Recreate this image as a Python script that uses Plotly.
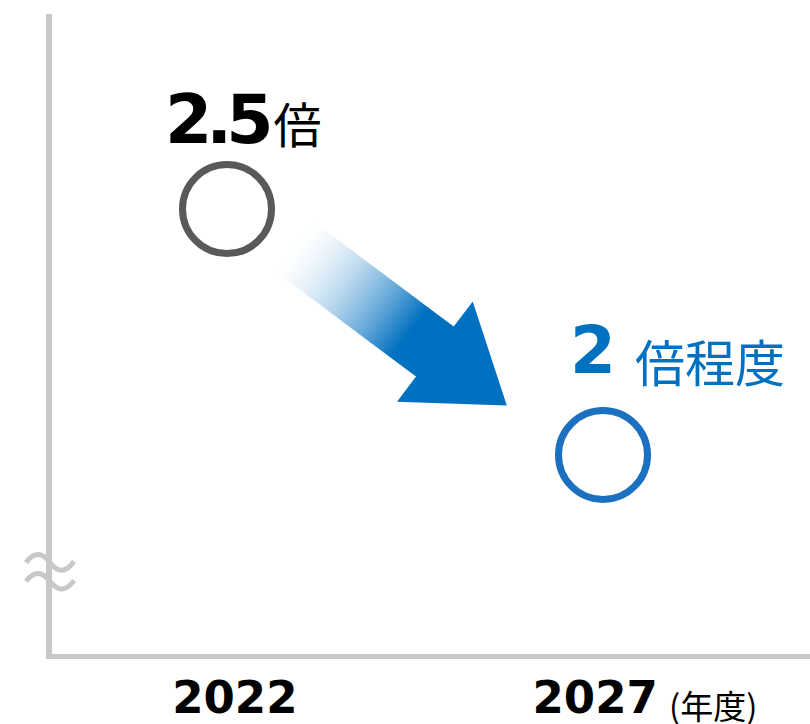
import plotly.graph_objects as go

# ---- data ----
years = ["2022", "2027"]
values = [2.5, 2.0]
value_labels = ["2.5", "2"]
unit_labels = ["倍", "倍程度"]
year_unit = "(年度)"
tick_text = ["\u00a02022", "2027\u00a0"]

# ---- styles ----
MARKER_COLORS = ["#595959", "#1b70c0"]
BLUE = "#0070c0"
AXIS_GRAY = "#c8c8c8"

W, H = 810, 724
L, R, T, B = 52, 0, 14, 67
PW = W - L - R
PH = H - T - B


def px(x):
    return (x - L) / PW


def py(y):
    return (H - B - y) / PH


fig = go.Figure()

fig.add_trace(go.Scatter(
    x=years, y=values, mode="markers",
    marker=dict(symbol="circle", size=89, color="white",
                line=dict(width=7, color=MARKER_COLORS)),
    hoverinfo="skip", showlegend=False, cliponaxis=False,
))

shapes = []

# ---- gradient arrow (decoration) ----
ox, oy = 291.0, 245.0
ux, uy = 0.7993, 0.6009
nx, ny = 0.6009, -0.7993
hw = 31.4
head_hw = 63.0
shaft_end = 180.0
tip_t = 270.0
grad_end = 148.0
gamma = 1.7


def pt(t, s):
    x = ox + t * ux + s * nx
    y = oy + t * uy + s * ny
    return px(x), py(y)


def path(points):
    return "M " + " L ".join(f"{x:.5f},{y:.5f}" for x, y in points) + " Z"


c0 = (255, 255, 255)
c1 = (0, 112, 192)
n_strips = 70
step = grad_end / n_strips
for i in range(n_strips):
    t0 = i * step
    t1 = t0 + step + 0.7
    f = ((i + 0.5) / n_strips) ** gamma
    col = tuple(round(c0[k] + (c1[k] - c0[k]) * f) for k in range(3))
    shapes.append(dict(
        type="path", xref="paper", yref="paper", layer="below",
        path=path([pt(t0, hw), pt(t1, hw), pt(t1, -hw), pt(t0, -hw)]),
        fillcolor=f"rgb{col}", line=dict(width=0),
    ))

shapes.append(dict(
    type="path", xref="paper", yref="paper", layer="below",
    path=path([pt(grad_end, hw), pt(shaft_end, hw), pt(shaft_end, head_hw),
               pt(tip_t, 0), pt(shaft_end, -head_hw), pt(shaft_end, -hw),
               pt(grad_end, -hw)]),
    fillcolor=BLUE, line=dict(width=0),
))

# ---- axis break mark ----
for dy in (0, 19):
    p = (f"M {px(26):.5f},{py(565 + dy):.5f} "
         f"Q {px(38):.5f},{py(549 + dy):.5f} {px(50):.5f},{py(565 + dy):.5f} "
         f"T {px(74):.5f},{py(564 + dy):.5f}")
    shapes.append(dict(type="path", xref="paper", yref="paper", layer="above",
                       path=p, line=dict(color=AXIS_GRAY, width=5)))

annotations = [
    dict(xref="paper", yref="paper", x=px(165), y=py(119.5),
         xanchor="left", yanchor="middle", showarrow=False,
         borderpad=0, borderwidth=0,
         text=("<b><span style='letter-spacing:-6px'>2.</span>5</b>"
               "<span style='font-family:Noto Sans CJK JP;font-size:48px'>"
               + unit_labels[0] + "</span>"),
         font=dict(family="DejaVu Sans", size=68, color="black")),
    dict(xref="paper", yref="paper", x=px(570), y=py(352),
         xanchor="left", yanchor="middle", showarrow=False,
         borderpad=0, borderwidth=0,
         text="<b>" + value_labels[1] + "</b>",
         font=dict(family="DejaVu Sans", size=66, color=BLUE)),
    dict(xref="paper", yref="paper", x=px(635), y=py(362),
         xanchor="left", yanchor="middle", showarrow=False,
         borderpad=0, borderwidth=0,
         text=unit_labels[1],
         font=dict(family="Noto Sans CJK JP", size=50, color=BLUE)),
    dict(xref="paper", yref="paper", x=px(669), y=py(708),
         xanchor="left", yanchor="middle", showarrow=False,
         borderpad=0, borderwidth=0,
         text=year_unit,
         font=dict(family="Noto Sans CJK JP", size=33, color="black")),
]

fig.update_layout(
    width=W, height=H,
    margin=dict(l=L, r=R, t=T, b=B, pad=0),
    paper_bgcolor="white", plot_bgcolor="white",
    shapes=shapes, annotations=annotations,
    showlegend=False,
    xaxis=dict(type="category", range=[-0.4654, 1.5505],
               tickvals=years, ticktext=tick_text,
               showgrid=False, zeroline=False, ticks="",
               showline=True, linecolor=AXIS_GRAY, linewidth=5,
               tickfont=dict(family="DejaVu Sans", size=45, color="black",
                             weight="bold"),
               fixedrange=True),
    yaxis=dict(range=[1.5951, 2.8968], showgrid=False, zeroline=False,
               showticklabels=False, ticks="",
               showline=True, linecolor=AXIS_GRAY, linewidth=6,
               fixedrange=True),
)

fig.write_html("out.html", config={"displayModeBar": False})
